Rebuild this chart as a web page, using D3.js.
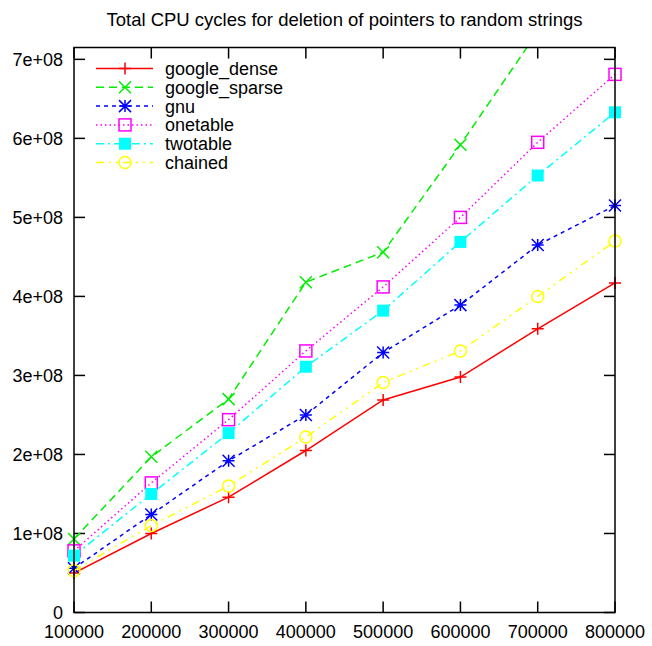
<!DOCTYPE html>
<html>
<head>
<meta charset="utf-8">
<script src="https://cdn.jsdelivr.net/npm/d3@7"></script>
<style>
  html, body { margin: 0; padding: 0; background: #fff; }
  svg { display: block; font-family: "Liberation Sans", Arial, sans-serif; }
</style>
</head>
<body>
<svg id="chart" width="652" height="646"></svg>
<script>
// Table sizes (number of pointers deleted)
const sizes = [100000, 200000, 300000, 400000, 500000, 600000, 700000, 800000];

// Total CPU cycles per implementation
const googleDense  = [0.50e8, 1.00e8, 1.46e8, 2.05e8, 2.69e8, 2.98e8, 3.59e8, 4.17e8];
const googleSparse = [0.93e8, 1.97e8, 2.70e8, 4.18e8, 4.56e8, 5.92e8, 7.35e8, 8.30e8];
const gnu          = [0.56e8, 1.24e8, 1.92e8, 2.50e8, 3.29e8, 3.89e8, 4.65e8, 5.15e8];
const onetable     = [0.78e8, 1.64e8, 2.44e8, 3.31e8, 4.12e8, 5.00e8, 5.95e8, 6.81e8];
const twotable     = [0.72e8, 1.50e8, 2.27e8, 3.11e8, 3.82e8, 4.69e8, 5.53e8, 6.33e8];
const chained      = [0.53e8, 1.10e8, 1.60e8, 2.22e8, 2.91e8, 3.31e8, 4.00e8, 4.70e8];

const seriesNames = ["google_dense", "google_sparse", "gnu", "onetable", "twotable", "chained"];
const seriesValues = [googleDense, googleSparse, gnu, onetable, twotable, chained];

const yTicks = [0, 1e8, 2e8, 3e8, 4e8, 5e8, 6e8, 7e8];
const yTickLabels = ["0", "1e+08", "2e+08", "3e+08", "4e+08", "5e+08", "6e+08", "7e+08"];

const title = "Total CPU cycles for deletion of pointers to random strings";

// gnuplot-like styles: colour, dash pattern, point type
const styles = [
  { color: "#ff0000", dash: null,          marker: "plus" },
  { color: "#00ee00", dash: "8,5",         marker: "cross" },
  { color: "#0000ff", dash: "4,4",         marker: "star" },
  { color: "#ff00ff", dash: "1.5,3",       marker: "box" },
  { color: "#00ffff", dash: "8,4,2,4",     marker: "fbox" },
  { color: "#ffff00", dash: "8,5,2,5,2,5", marker: "circle" }
];

const svg = d3.select("#chart");
const plotL = 74, plotR = 615, plotT = 47.5, plotB = 612.5;
const yMax = 7.15e8;
const fontSize = 18;

const x = d3.scaleLinear().domain([100000, 800000]).range([plotL, plotR]);
const y = d3.scaleLinear().domain([0, yMax]).range([plotB, plotT]);

// title
svg.append("text")
  .attr("x", (plotL + plotR) / 2).attr("y", 26)
  .attr("text-anchor", "middle")
  .attr("font-size", 18.5)
  .text(title);

// clip region for lines
svg.append("defs").append("clipPath").attr("id", "plotclip")
  .append("rect").attr("x", plotL).attr("y", plotT)
  .attr("width", plotR - plotL).attr("height", plotB - plotT);

const tickLen = 11;
const axes = svg.append("g").attr("stroke", "#000").attr("stroke-width", 1.5);

// left/right y ticks (mirrored, inward)
yTicks.forEach(v => {
  const yy = y(v);
  axes.append("line").attr("x1", plotL).attr("x2", plotL + tickLen).attr("y1", yy).attr("y2", yy);
  axes.append("line").attr("x1", plotR).attr("x2", plotR - tickLen).attr("y1", yy).attr("y2", yy);
});
// bottom/top x ticks
sizes.forEach(v => {
  const xx = x(v);
  axes.append("line").attr("x1", xx).attr("x2", xx).attr("y1", plotB).attr("y2", plotB - tickLen);
  axes.append("line").attr("x1", xx).attr("x2", xx).attr("y1", plotT).attr("y2", plotT + tickLen);
});

// y tick labels
svg.append("g").selectAll("text").data(yTicks).join("text")
  .attr("x", plotL - 11).attr("y", d => y(d))
  .attr("dy", "0.36em")
  .attr("text-anchor", "end")
  .attr("font-size", fontSize)
  .text((d, i) => yTickLabels[i]);

// x tick labels
svg.append("g").selectAll("text").data(sizes).join("text")
  .attr("x", d => x(d)).attr("y", plotB + 25.5)
  .attr("text-anchor", "middle")
  .attr("font-size", fontSize)
  .text(d => d3.format("d")(d));

// marker drawing
function drawMarker(g, type, cx, cy, color) {
  const s = 6;
  if (type === "plus") {
    g.append("path").attr("d", `M${cx - s},${cy}H${cx + s}M${cx},${cy - s}V${cy + s}`)
      .attr("stroke", color).attr("stroke-width", 1.5).attr("fill", "none");
  } else if (type === "cross") {
    g.append("path").attr("d", `M${cx - s},${cy - s}L${cx + s},${cy + s}M${cx - s},${cy + s}L${cx + s},${cy - s}`)
      .attr("stroke", color).attr("stroke-width", 1.5).attr("fill", "none");
  } else if (type === "star") {
    g.append("path").attr("d",
      `M${cx - s},${cy}H${cx + s}M${cx},${cy - s}V${cy + s}` +
      `M${cx - s},${cy - s}L${cx + s},${cy + s}M${cx - s},${cy + s}L${cx + s},${cy - s}`)
      .attr("stroke", color).attr("stroke-width", 1.5).attr("fill", "none");
  } else if (type === "box") {
    g.append("rect").attr("x", cx - s).attr("y", cy - s).attr("width", 2 * s).attr("height", 2 * s)
      .attr("stroke", color).attr("stroke-width", 1.5).attr("fill", "none");
  } else if (type === "fbox") {
    g.append("rect").attr("x", cx - s).attr("y", cy - s).attr("width", 2 * s).attr("height", 2 * s)
      .attr("fill", color);
  } else if (type === "circle") {
    g.append("circle").attr("cx", cx).attr("cy", cy).attr("r", s)
      .attr("stroke", color).attr("stroke-width", 1.5).attr("fill", "none");
  }
}

const line = d3.line().x(d => x(d[0])).y(d => y(d[1]));

seriesValues.forEach((vals, i) => {
  const st = styles[i];
  const pts = sizes.map((s, k) => [s, vals[k]]);
  svg.append("path")
    .attr("d", line(pts))
    .attr("clip-path", "url(#plotclip)")
    .attr("fill", "none")
    .attr("stroke", st.color)
    .attr("stroke-width", 1.5)
    .attr("stroke-dasharray", st.dash);
  const mg = svg.append("g");
  pts.forEach(p => {
    if (p[1] <= yMax) drawMarker(mg, st.marker, x(p[0]), y(p[1]), st.color);
  });
});

// legend
const legendRowY = [68.5, 87.3, 106.1, 124.9, 143.7, 162.5];
seriesNames.forEach((name, i) => {
  const st = styles[i];
  const ly = legendRowY[i];
  svg.append("line")
    .attr("x1", 96).attr("x2", 153).attr("y1", ly).attr("y2", ly)
    .attr("stroke", st.color).attr("stroke-width", 1.5)
    .attr("stroke-dasharray", st.dash);
  drawMarker(svg.append("g"), st.marker, 125, ly, st.color);
  svg.append("text")
    .attr("x", 165).attr("y", ly).attr("dy", "0.36em")
    .attr("font-size", fontSize)
    .text(name);
});

// frame
svg.append("rect")
  .attr("x", plotL).attr("y", plotT)
  .attr("width", plotR - plotL).attr("height", plotB - plotT)
  .attr("fill", "none").attr("stroke", "#000").attr("stroke-width", 1.5);
</script>
</body>
</html>
